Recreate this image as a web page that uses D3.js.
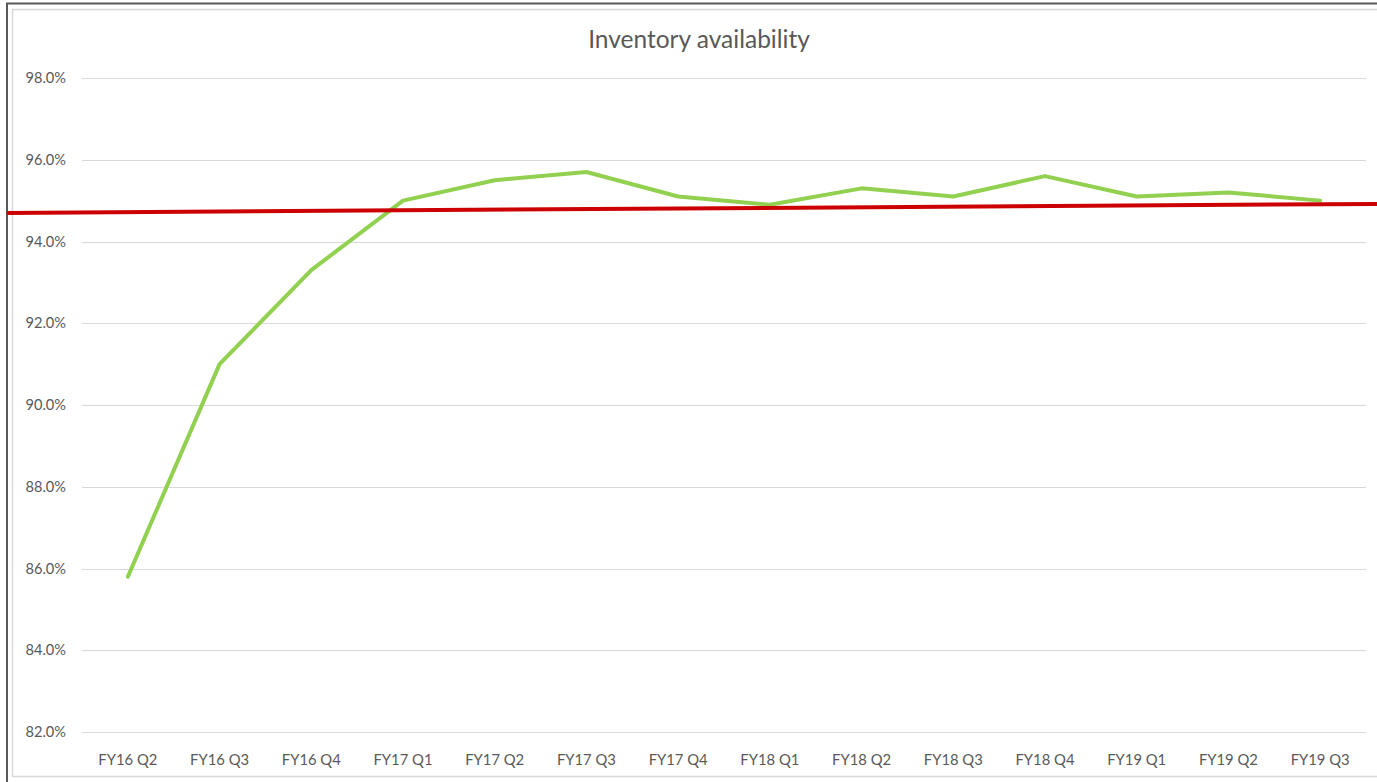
<!DOCTYPE html>
<meta charset="utf-8">
<script src="https://d3js.org/d3.v7.min.js"></script>
<style>
body { margin: 0; background: #fff; }
text { font-family: Lato, "Open Sans", sans-serif; fill: #595959; }
</style>
<svg id="chart" width="1377" height="782"></svg>
<script>
// data
const quarters = ["FY16 Q2","FY16 Q3","FY16 Q4","FY17 Q1","FY17 Q2","FY17 Q3","FY17 Q4",
                  "FY18 Q1","FY18 Q2","FY18 Q3","FY18 Q4","FY19 Q1","FY19 Q2","FY19 Q3"]
const availability = [85.8, 91.0, 93.3, 95.0, 95.5, 95.7, 95.1, 94.9, 95.3, 95.1, 95.6, 95.1, 95.2, 95.0]
const yTicks = [82, 84, 86, 88, 90, 92, 94, 96, 98]
// red reference line, given as [category index, value] at its two ends
const refLine = [[-1.32, 94.70], [13.62, 94.92]]

const svg = d3.select("#chart"),
    width = +svg.attr("width"),
    height = +svg.attr("height")

// frame
svg.append("rect").attr("x", 7).attr("y", 3.5).attr("width", width + 20).attr("height", height + 20)
  .attr("fill", "none").attr("stroke", "#595959").attr("stroke-width", 2)
svg.append("rect").attr("x", 12.5).attr("y", 9.5).attr("width", width + 20).attr("height", 767)
  .attr("fill", "none").attr("stroke", "#d9d9d9").attr("stroke-width", 1.5)

const left = 82, right = 1366
const x = d3.scaleBand().domain(quarters).range([left, right])
const xi = d3.scaleLinear().domain([0, quarters.length - 1])
    .range([x(quarters[0]) + x.bandwidth() / 2, x(quarters[quarters.length - 1]) + x.bandwidth() / 2])
const y = d3.scaleLinear().domain([82, 98]).range([732, 78])

// gridlines
svg.append("g").selectAll("line").data(yTicks).join("line")
    .attr("x1", left).attr("x2", right)
    .attr("y1", d => Math.round(y(d)) + 0.5).attr("y2", d => Math.round(y(d)) + 0.5)
    .attr("stroke", "#d9d9d9").attr("stroke-width", 1)

// y labels
svg.append("g").selectAll("text").data(yTicks).join("text")
    .attr("x", 66).attr("y", d => y(d) + 5)
    .attr("text-anchor", "end").attr("font-size", 14.6)
    .text(d => d3.format(".1f")(d) + "%")

// x labels
svg.append("g").selectAll("text").data(quarters).join("text")
    .attr("x", d => x(d) + x.bandwidth() / 2).attr("y", 765)
    .attr("text-anchor", "middle").attr("font-size", 14.8)
    .text(d => d)

// title
svg.append("text").attr("x", 699).attr("y", 48)
  .attr("text-anchor", "middle").attr("font-size", 24.5)
  .text("Inventory availability")

// series
const line = d3.line().x((d, i) => x(quarters[i]) + x.bandwidth() / 2).y(d => y(d))
svg.append("path").datum(availability)
  .attr("d", line)
  .attr("fill", "none").attr("stroke", "#92d050").attr("stroke-width", 4)
  .attr("stroke-linejoin", "round").attr("stroke-linecap", "round")

// red reference line
svg.append("path").datum(refLine)
  .attr("d", d3.line().x(d => xi(d[0])).y(d => y(d[1])))
  .attr("fill", "none").attr("stroke", "#cc0000").attr("stroke-width", 4)
</script>
